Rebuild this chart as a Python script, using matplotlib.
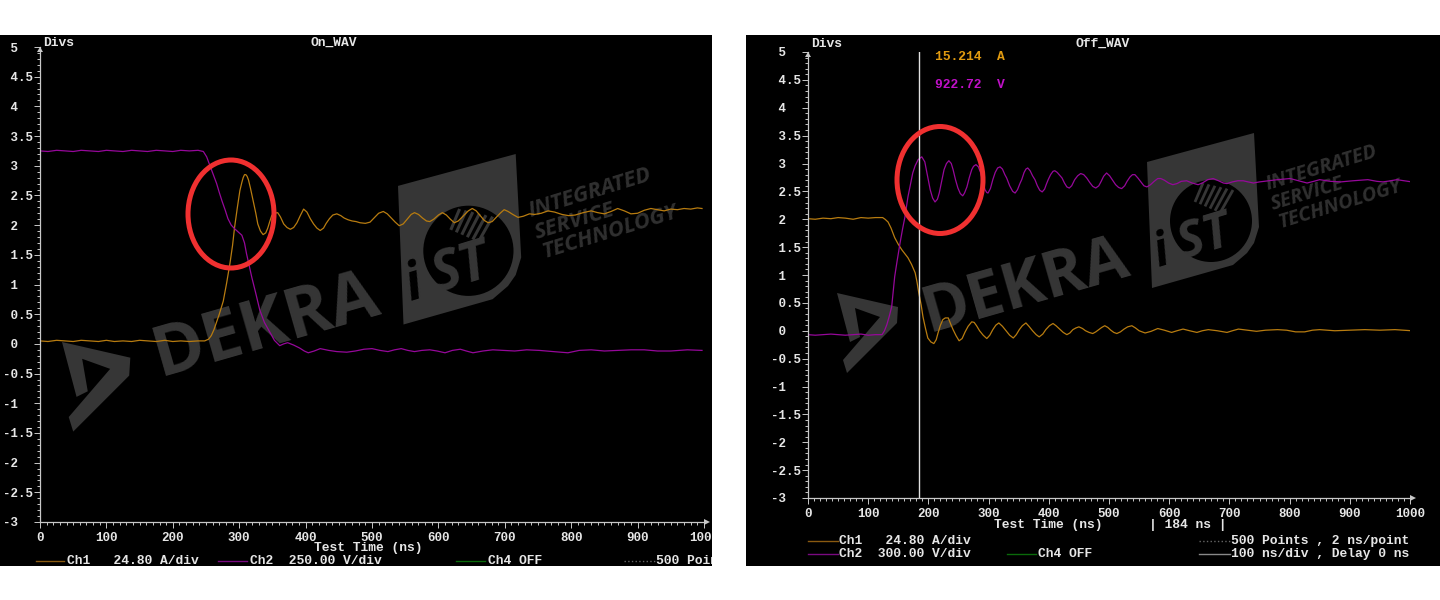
import matplotlib
matplotlib.use("Agg")
import matplotlib.pyplot as plt
from matplotlib.patches import Ellipse, Polygon, Circle, Rectangle
from matplotlib.ticker import MultipleLocator

# On_WAV readings (ns, divs)
on_ch1_t = [0, 12, 25, 38, 50, 62, 75, 88, 100, 112, 125, 138, 150, 162, 175, 188, 200, 212, 225, 238, 248, 254,
            258, 262, 266, 270, 276, 281, 286, 290, 293, 297, 301, 304, 306, 308, 310, 312, 314, 317, 321, 325,
            328, 332, 336, 340, 343, 346, 349, 352, 358, 362, 367, 372, 377, 382, 387, 392, 397, 402, 407, 412,
            417, 422, 427, 431, 436, 441, 447, 453, 458, 464, 470, 476, 482, 490, 497, 503, 510, 517, 523, 529,
            535, 541, 547, 553, 559, 564, 570, 576, 582, 587, 593, 600, 606, 612, 618, 624, 630, 637, 645, 651,
            657, 663, 669, 675, 681, 687, 693, 699, 705, 712, 720, 728, 737, 745, 755, 765, 775, 786, 796, 806,
            818, 830, 840, 850, 860, 870, 880, 890, 900, 910, 920, 930, 940, 950, 960, 970, 980, 990, 997]
on_ch1_v = [0.05, 0.04, 0.06, 0.05, 0.04, 0.06, 0.05, 0.04, 0.06, 0.04, 0.05, 0.04, 0.06, 0.05, 0.04, 0.06, 0.04,
            0.05, 0.04, 0.05, 0.05, 0.08, 0.14, 0.24, 0.37, 0.5, 0.72, 1.02, 1.35, 1.66, 1.96, 2.28, 2.58, 2.72,
            2.80, 2.85, 2.85, 2.82, 2.76, 2.62, 2.41, 2.2, 2.02, 1.9, 1.84, 1.87, 1.95, 2.06, 2.16, 2.2, 2.21, 2.14,
            2.02, 1.96, 1.93, 1.96, 2.04, 2.16, 2.27, 2.22, 2.11, 2.02, 1.95, 1.91, 1.95, 2.03, 2.11, 2.17, 2.19,
            2.16, 2.12, 2.09, 2.07, 2.06, 2.04, 2.03, 2.05, 2.12, 2.2, 2.23, 2.19, 2.12, 2.05, 1.99, 2.02, 2.1, 2.18,
            2.21, 2.18, 2.12, 2.07, 2.06, 2.1, 2.17, 2.21, 2.17, 2.1, 2.04, 2.07, 2.15, 2.24, 2.28, 2.24, 2.16, 2.08,
            2.04, 2.06, 2.13, 2.2, 2.26, 2.23, 2.18, 2.13, 2.15, 2.19, 2.18, 2.2, 2.24, 2.22, 2.18, 2.16, 2.17, 2.21,
            2.24, 2.21, 2.19, 2.23, 2.28, 2.24, 2.19, 2.2, 2.25, 2.28, 2.26, 2.24, 2.27, 2.26, 2.28, 2.27, 2.29, 2.28]
on_ch2_t = [0, 12, 25, 38, 50, 62, 75, 88, 100, 112, 125, 138, 150, 162, 175, 188, 200, 212, 225, 238, 246, 251, 256,
            261, 266, 270, 274, 279, 283, 288, 293, 299, 304, 308, 311, 315, 319, 325, 331, 338, 346, 353, 361,
            367, 373, 382, 391, 398, 404, 413, 422, 435, 447, 462, 475, 488, 500, 512, 524, 534, 544, 554, 564,
            575, 587, 598, 610, 621, 633, 642, 652, 667, 682, 698, 715, 733, 752, 773, 795, 812, 830, 850, 870,
            890, 910, 930, 950, 975, 997]
on_ch2_v = [3.25, 3.24, 3.26, 3.25, 3.24, 3.26, 3.25, 3.24, 3.26, 3.25, 3.24, 3.26, 3.25, 3.24, 3.26, 3.25, 3.24, 3.26,
            3.25, 3.26, 3.24, 3.15, 3.0, 2.85, 2.70, 2.55, 2.41, 2.25, 2.11, 2.0, 1.94, 1.88, 1.83, 1.7, 1.52, 1.32,
            1.12, 0.85, 0.57, 0.36, 0.2, 0.06, -0.03, 0.0, 0.02, -0.02, -0.07, -0.12, -0.15, -0.12, -0.08, -0.11,
            -0.13, -0.14, -0.12, -0.09, -0.08, -0.11, -0.13, -0.1, -0.08, -0.11, -0.13, -0.11, -0.10, -0.12, -0.15,
            -0.11, -0.09, -0.12, -0.15, -0.12, -0.10, -0.11, -0.12, -0.1, -0.11, -0.13, -0.15, -0.11, -0.10, -0.12,
            -0.11, -0.1, -0.10, -0.12, -0.12, -0.1, -0.11]

# Off_WAV readings (ns, divs)
off_ch1_t = [0, 12, 25, 38, 50, 62, 75, 88, 100, 112, 124, 128, 133, 138, 144, 150, 156, 161, 166, 172, 178, 181, 184,
             188, 191, 195, 199, 204, 209, 213, 216, 220, 224, 228, 233, 237, 241, 246, 251, 256, 261, 266, 272, 276,
             280, 285, 291, 297, 302, 307, 312, 317, 323, 329, 335, 341, 346, 351, 356, 362, 367, 373, 379, 384, 390,
             395, 401, 407, 412, 418, 424, 430, 435, 440, 445, 450, 456, 461, 467, 473, 478, 483, 488, 493, 498, 503,
             508, 513, 519, 525, 531, 538, 544, 550, 555, 560, 570, 581, 592, 604, 613, 623, 634, 646, 655, 665, 680,
             696, 705, 715, 730, 745, 760, 780, 795, 810, 825, 838, 850, 875, 900, 925, 950, 975, 1003]
off_ch1_v = [2.01, 2.0, 2.02, 2.01, 2.03, 2.02, 2.0, 2.03, 2.02, 2.03, 2.03, 2.0, 1.95, 1.84, 1.67, 1.55, 1.45, 1.38,
             1.31, 1.19, 1.04, 0.88, 0.68, 0.46, 0.25, 0.05, -0.13, -0.2, -0.23, -0.16, -0.04, 0.1, 0.2, 0.23, 0.23,
             0.12, 0.02, -0.09, -0.18, -0.14, -0.02, 0.08, 0.16, 0.15, 0.09, 0.0, -0.08, -0.14, -0.08, 0.02, 0.1, 0.14,
             0.08, 0.0, -0.08, -0.13, -0.07, 0.02, 0.09, 0.14, 0.08, 0.0, -0.07, -0.11, -0.06, 0.02, 0.09, 0.13, 0.09,
             0.03, -0.03, -0.07, -0.04, 0.02, 0.05, 0.07, 0.04, 0.0, -0.03, -0.05, -0.02, 0.02, 0.06, 0.09, 0.06, 0.01,
             -0.03, -0.05, -0.02, 0.03, 0.07, 0.09, 0.05, 0.0, -0.02, -0.04, -0.01, 0.04, 0.01, -0.03, 0.0, 0.03, 0.0,
             -0.03, 0.0, 0.02, 0.0, -0.03, 0.0, 0.03, 0.01, -0.01, 0.01, 0.02, 0.01, -0.02, -0.02, 0.01, 0.02, 0.0, 0.01,
             0.02, 0.01, 0.02, 0.0]
off_ch2_t = [0, 12, 25, 38, 50, 62, 75, 88, 100, 112, 123, 127, 131, 135, 139, 144, 148, 153, 157, 161, 166, 170, 174,
             178, 183, 189, 194, 199, 203, 207, 211, 215, 218, 222, 226, 230, 234, 238, 241, 245, 249, 253, 257, 260,
             264, 268, 272, 275, 279, 283, 287, 291, 294, 297, 299, 303, 307, 311, 315, 319, 323, 327, 330, 335, 340,
             344, 348, 352, 355, 359, 362, 365, 369, 373, 377, 381, 385, 389, 393, 396, 399, 403, 407, 410, 414, 418,
             422, 426, 430, 434, 438, 443, 448, 453, 458, 463, 468, 473, 478, 483, 487, 491, 496, 501, 506, 511, 516,
             521, 526, 530, 535, 539, 543, 548, 553, 558, 563, 569, 575, 581, 586, 592, 599, 606, 613, 620, 629, 638,
             648, 655, 664, 673, 682, 690, 696, 705, 714, 723, 731, 740, 750, 765, 780, 801, 815, 829, 840, 850, 868,
             885, 905, 930, 945, 955, 968, 978, 990, 1003]
off_ch2_v = [-0.07, -0.08, -0.07, -0.06, -0.07, -0.08, -0.07, -0.06, -0.08, -0.07, -0.07, 0.0, 0.11, 0.26, 0.43, 0.97,
             1.25, 1.58, 1.82, 2.04, 2.40, 2.62, 2.83, 2.96, 3.07, 3.12, 3.03, 2.75, 2.53, 2.38, 2.31, 2.36, 2.47, 2.68,
             2.89, 3.0, 3.05, 3.0, 2.89, 2.71, 2.56, 2.46, 2.42, 2.47, 2.58, 2.75, 2.89, 2.95, 2.98, 2.94, 2.83, 2.65,
             2.53, 2.48, 2.47, 2.55, 2.71, 2.84, 2.92, 2.94, 2.90, 2.80, 2.74, 2.60, 2.50, 2.47, 2.53, 2.64, 2.71, 2.84,
             2.90, 2.92, 2.87, 2.78, 2.71, 2.60, 2.52, 2.49, 2.54, 2.63, 2.71, 2.80, 2.86, 2.87, 2.84, 2.79, 2.74, 2.65,
             2.58, 2.56, 2.60, 2.71, 2.78, 2.82, 2.80, 2.74, 2.66, 2.59, 2.56, 2.60, 2.68, 2.77, 2.83, 2.78, 2.70, 2.62,
             2.57, 2.55, 2.60, 2.68, 2.76, 2.80, 2.80, 2.74, 2.67, 2.60, 2.58, 2.62, 2.68, 2.73, 2.73, 2.70, 2.65, 2.62,
             2.64, 2.68, 2.69, 2.65, 2.62, 2.65, 2.71, 2.73, 2.69, 2.65, 2.64, 2.67, 2.69, 2.69, 2.67, 2.65, 2.67, 2.69,
             2.71, 2.73, 2.69, 2.65, 2.68, 2.71, 2.68, 2.67, 2.69, 2.71, 2.68, 2.67, 2.69, 2.71, 2.69, 2.67]

cursor_t = 184
ytick_vals = [-3, -2.5, -2, -1.5, -1, -0.5, 0, 0.5, 1, 1.5, 2, 2.5, 3, 3.5, 4, 4.5, 5]
ytick_labels = ["-3", "-2.5", "-2", "-1.5", "-1", "-0.5", " 0", " 0.5", " 1", " 1.5", " 2", " 2.5", " 3", " 3.5",
                " 4", " 4.5", " 5"]
xtick_vals = [0, 100, 200, 300, 400, 500, 600, 700, 800, 900, 1000]

ORANGE = "#b87c10"
PURPLE = "#96089a"
LIGHT = "#e6e6e6"
GREY = "#363636"
FONT = "Liberation Mono"


def to_fig(x0, y0, x1, y1):
    # pixel box, top-left origin, to figure fractions
    return [x0 / 1440, 1 - y1 / 600, (x1 - x0) / 1440, (y1 - y0) / 600]


def draw_dekra(ax, ox, oy, s, tx, ty, size):
    chevron = [(0, 0), (61, 14), (60, 30), (10, 80), (6, 67), (43, 24), (18, 15), (23, 44), (13, 49)]
    ax.add_patch(Polygon([(ox + x * s, oy + y * s) for x, y in chevron], fc=GREY, ec="none"))
    ax.text(tx, ty, "DEKRA", color=GREY, fontsize=size, family="Open Sans", weight="bold",
            rotation=16, rotation_mode="anchor", ha="left", va="baseline")


def draw_ist(ax, ox, oy, s):
    box = [(0, -1), (107, -30), (112, 64), (107, 80), (100, 90), (86, 102), (5, 125)]
    ax.add_patch(Polygon([(ox + x * s, oy + y * s) for x, y in box], fc=GREY, ec="none"))
    ax.add_patch(Circle((ox + 64 * s, oy + 58 * s), 41 * s, fc="black", ec="none"))
    # hatching on the top of the circle
    for i in range(6):
        ax.plot([ox + (48 + 5 * i) * s, ox + (56 + 6 * i) * s], [oy + (39 + 2.2 * i) * s, oy + (20 + 1.4 * i) * s],
                color=GREY, lw=2.0 * s, solid_capstyle="butt")
    ax.text(ox + 11 * s, oy + 104 * s, "i", color="black", fontsize=34 * s, family="Open Sans", weight="bold",
            style="italic", rotation=17, rotation_mode="anchor", ha="left", va="baseline")
    ax.text(ox + 36 * s, oy + 96 * s, "ST", color=GREY, fontsize=36 * s, family="Open Sans", weight="bold",
            style="italic", rotation=17, rotation_mode="anchor", ha="left", va="baseline")
    lines = [("INTEGRATED", 120, 27), ("SERVICE", 126, 47), ("TECHNOLOGY", 133, 65)]
    for word, dx, dy in lines:
        ax.text(ox + dx * s, oy + dy * s, word, color="#303030", fontsize=14.5 * s, family="Open Sans", weight="bold",
                style="italic", rotation=17, rotation_mode="anchor", ha="left", va="baseline")


def setup_axes(fig, box, ch1, ch2):
    ax = fig.add_axes(to_fig(*box), zorder=1)
    ax.patch.set_visible(False)
    ax.plot(ch1[0], ch1[1], color=ORANGE, lw=0.9)
    ax.plot(ch2[0], ch2[1], color=PURPLE, lw=0.9)
    ax.set_xlim(0, 1000)
    ax.set_ylim(-3, 5)
    for side in ("top", "right"):
        ax.spines[side].set_visible(False)
    for side in ("left", "bottom"):
        ax.spines[side].set_color("#c8c8c8")
        ax.spines[side].set_linewidth(0.9)
    ax.set_xticks(xtick_vals)
    ax.xaxis.set_minor_locator(MultipleLocator(10))
    ax.yaxis.set_minor_locator(MultipleLocator(0.1))
    ax.set_yticks(ytick_vals)
    ax.set_yticklabels(ytick_labels, family=FONT, fontsize=9, color=LIGHT, ha="left", weight="bold")
    ax.set_xticklabels([str(v) for v in xtick_vals], family=FONT, fontsize=9, color=LIGHT, weight="bold")
    ax.tick_params(axis="x", which="major", length=4.2, width=0.7, color="#c8c8c8", pad=3)
    ax.tick_params(axis="x", which="minor", length=2.2, width=0.7, color="#c8c8c8")
    ax.tick_params(axis="y", which="major", length=4.2, width=0.7, color="#c8c8c8", pad=22.5)
    ax.tick_params(axis="y", which="minor", length=2.2, width=0.7, color="#c8c8c8")
    return ax


def label(ax, x, y, s, color=LIGHT, ha="left", size=9.4):
    ax.text(x, y, s, color=color, family=FONT, fontsize=size, weight="bold", ha=ha, va="center")


def key_line(ax, x0, x1, y, color, ls="-"):
    ax.plot([x0, x1], [y, y], color=color, lw=1, ls=ls)


fig = plt.figure(figsize=(14.4, 6), dpi=100, facecolor="white")

bg = fig.add_axes([0, 0, 1, 1], zorder=0)
bg.set_xlim(0, 1440)
bg.set_ylim(600, 0)
bg.axis("off")
bg.add_patch(Rectangle((0, 35), 712, 531, fc="black", ec="none"))
bg.add_patch(Rectangle((746, 35), 694, 531, fc="black", ec="none"))
draw_dekra(bg, 62, 342, 1.12, 160, 376, 50.5)
draw_ist(bg, 398, 187, 1.1)
draw_dekra(bg, 837, 293, 1.0, 928, 332, 46)
draw_ist(bg, 1147, 163, 1.0)

ax_on = setup_axes(fig, (40, 47, 704, 522), (on_ch1_t, on_ch1_v), (on_ch2_t, on_ch2_v))
ax_off = setup_axes(fig, (808, 52, 1410, 498), (off_ch1_t, off_ch1_v), (off_ch2_t, off_ch2_v))
ax_off.axvline(cursor_t, color="#e0e0e0", lw=1)

fg = fig.add_axes([0, 0, 1, 1], zorder=2)
fg.set_xlim(0, 1440)
fg.set_ylim(600, 0)
fg.axis("off")
fg.patch.set_visible(False)

fg.add_patch(Ellipse((231, 214), 86, 108, fc="none", ec="#f03030", lw=3.6))
fg.add_patch(Ellipse((940, 180), 86, 107, fc="none", ec="#f03030", lw=3.6))

# axis arrow heads
fg.add_patch(Polygon([(704, 519), (710, 522), (704, 525)], fc="#c8c8c8", ec="none"))
fg.add_patch(Polygon([(1410, 495), (1416, 498), (1410, 501)], fc="#c8c8c8", ec="none"))
fg.add_patch(Polygon([(37, 52), (40, 47), (43, 52)], fc="#c8c8c8", ec="none"))
fg.add_patch(Polygon([(805, 57), (808, 52), (811, 57)], fc="#c8c8c8", ec="none"))

# left panel texts
label(fg, 43, 43, "Divs")
label(fg, 334, 43, "On_WAV", ha="center")
label(fg, 368, 548, "Test Time (ns)", ha="center")
key_line(fg, 36, 64, 561, "#8a5a10")
label(fg, 67, 561, "Ch1   24.80 A/div")
key_line(fg, 218, 247, 561, "#7a0a80")
label(fg, 250, 561, "Ch2  250.00 V/div")
key_line(fg, 456, 485, 561, "#0a6a0a")
label(fg, 488, 561, "Ch4 OFF")
key_line(fg, 624, 655, 561, "#666666", ":")
label(fg, 656, 561, "500 Points")

# right panel texts
label(fg, 811, 44, "Divs")
label(fg, 1103, 44, "Off_WAV", ha="center")
label(fg, 935, 57, "15.214  A", color="#e09a10")
label(fg, 935, 85, "922.72  V", color="#c010c8")
label(fg, 1048, 525, "Test Time (ns)", ha="center")
label(fg, 1149, 525, "| 184 ns |")
key_line(fg, 808, 838, 541, "#8a5a10")
label(fg, 839, 541, "Ch1   24.80 A/div")
key_line(fg, 808, 838, 554, "#7a0a80")
label(fg, 839, 554, "Ch2  300.00 V/div")
key_line(fg, 1007, 1036, 554, "#0a6a0a")
label(fg, 1038, 554, "Ch4 OFF")
key_line(fg, 1199, 1230, 541, "#666666", ":")
label(fg, 1231, 541, "500 Points , 2 ns/point")
key_line(fg, 1199, 1230, 554, "#888888")
label(fg, 1231, 554, "100 ns/div , Delay 0 ns")

# white gap between the two screenshots hides what runs off the left one
fg.add_patch(Rectangle((712, 0), 34, 600, fc="white", ec="none", zorder=5))

fig.savefig("out.png", dpi=100)
